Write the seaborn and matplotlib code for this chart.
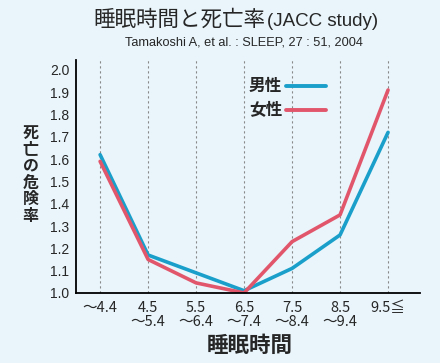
import matplotlib
matplotlib.use("Agg")
import matplotlib.pyplot as plt
import seaborn as sns
import pandas as pd

# sleep duration categories (hours)
cats = ["~4.4", "4.5~5.4", "5.5~6.4", "6.5~7.4", "7.5~8.4", "8.5~9.4", "9.5≦"]
tick_labels = ["〜4.4", "4.5\n〜5.4", "5.5\n〜6.4", "6.5\n〜7.4", "7.5\n〜8.4", "8.5\n〜9.4", "9.5≦"]
male = [1.62, 1.17, 1.09, 1.01, 1.11, 1.26, 1.72]
female = [1.59, 1.15, 1.045, 1.00, 1.23, 1.35, 1.91]
yticks = [1.0, 1.1, 1.2, 1.3, 1.4, 1.5, 1.6, 1.7, 1.8, 1.9, 2.0]

bg = "#e9f5fb"
c_male = "#1a9fca"
c_female = "#e2566c"

df = pd.DataFrame({
    "x": list(range(len(cats))) * 2,
    "rate": male + female,
    "sex": ["男性"] * len(cats) + ["女性"] * len(cats),
})

sns.set_style("white")
plt.rcParams['font.family'] = ['Noto Sans CJK JP', 'DejaVu Sans']
latin = ['Liberation Sans', 'DejaVu Sans']

fig = plt.figure(figsize=(4.4, 3.63), dpi=100, facecolor=bg)
ax = fig.add_axes([0.173, 0.193, 0.782, 0.642])
ax.set_facecolor(bg)

for i in range(len(cats)):
    ax.axvline(i, color="#888888", linestyle=(0, (2, 2.5)), linewidth=0.8, zorder=0)

sns.lineplot(data=df, x="x", y="rate", hue="sex", palette={"男性": c_male, "女性": c_female},
             linewidth=2.6, legend=False, ax=ax)

ax.set_xlim(-0.5, 6.67)
ax.set_ylim(1.0, 2.045)
ax.set_yticks(yticks)
ax.set_yticklabels([f"{v:.1f}" for v in yticks], fontsize=10, family=latin)
ax.set_xticks(range(len(cats)))
ax.set_xticklabels(tick_labels, fontsize=10.5, linespacing=1.0)
ax.tick_params(axis="both", direction="out", length=4, width=1, color="black", pad=2)
ax.tick_params(axis="y", pad=1)
for s in ["top", "right"]:
    ax.spines[s].set_visible(False)
for s in ["left", "bottom"]:
    ax.spines[s].set_color("black")
    ax.spines[s].set_linewidth(1.3)
ax.set_xlabel("")
ax.set_ylabel("")

# legend drawn by hand
ax.text(3.1, 1.93, "男性", fontsize=12, fontweight="bold", va="center", ha="left")
ax.plot([3.88, 4.7], [1.93, 1.93], color=c_male, linewidth=2.8)
ax.text(3.1, 1.82, "女性", fontsize=12, fontweight="bold", va="center", ha="left")
ax.plot([3.88, 4.7], [1.82, 1.82], color=c_female, linewidth=2.8)

fig.text(0.603, 0.945, "睡眠時間と死亡率", fontsize=15.5, ha="right", va="center")
fig.text(0.607, 0.94, "(JACC study)", fontsize=13.5, ha="left", va="center", family=latin)
fig.text(0.555, 0.882, "Tamakoshi A, et al. : SLEEP, 27 : 51, 2004", fontsize=9.2, ha="center",
         va="center", family=latin)
fig.text(0.07, 0.52, "死\n亡\nの\n危\n険\n率", fontsize=11.5, fontweight="bold", ha="center", va="center",
         linespacing=1.05)
fig.text(0.568, 0.048, "睡眠時間", fontsize=15.5, fontweight="bold", ha="center", va="center")

fig.savefig("out.png", dpi=100, facecolor=bg)
